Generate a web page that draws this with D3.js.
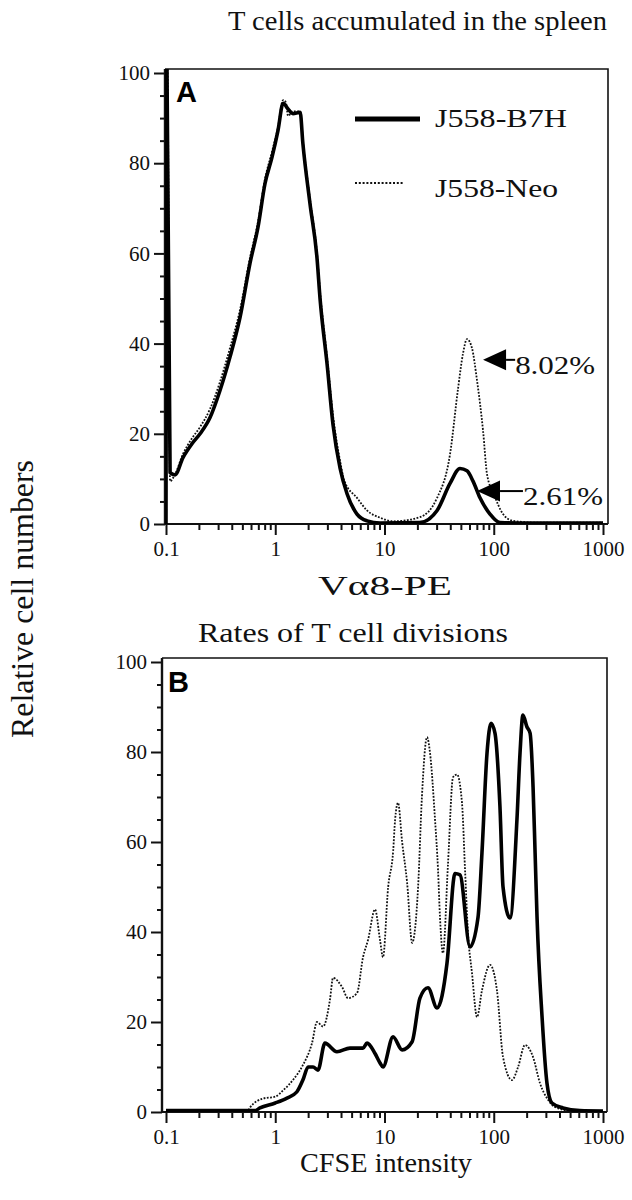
<!DOCTYPE html>
<html><head><meta charset="utf-8">
<script src="https://cdn.jsdelivr.net/npm/d3@7"></script>
<style>
html,body{margin:0;padding:0;background:#fff;}
svg{display:block;}
</style></head>
<body>
<svg id="chart" width="632" height="1200"></svg>
<script>
// ---------- DATA ----------
const xTickValues = [0.1, 1, 10, 100, 1000];
const xTickLabels = ["0.1", "1", "10", "100", "1000"];
const yTickValues = [0, 20, 40, 60, 80, 100];
const yTickLabels = ["0", "20", "40", "60", "80", "100"];
const seriesNames = ["J558-B7H", "J558-Neo"];

// Panel A : Va8-PE histograms  [value, relative cell number]
const topB7H = [[0.1,0],[0.102,102],[0.109,11.4],[0.121,10.9],[0.143,14.7],[0.173,17.8],[0.205,20],[0.253,23.6],[0.312,29.6],[0.385,37],[0.476,45.8],[0.587,57.8],[0.695,65.8],[0.806,75.5],[0.933,81.3],[1.06,87.3],[1.18,93.3],[1.31,92],[1.45,91],[1.69,91.3],[1.79,84.4],[2.08,71],[2.41,59],[2.57,50],[2.98,35.5],[3.38,22],[3.92,12.4],[4.54,6.7],[5.6,2.2],[6.92,0.7],[9.1,0.2],[21,0.3],[30.3,3],[39.8,9],[49.1,12.3],[56.9,11.8],[64.6,9.5],[74.8,5.8],[92.4,2.2],[114,0.3],[200,0.2],[1000,0.2]];
const topNeo = [[0.1,0],[0.103,102],[0.109,9.5],[0.121,11],[0.143,15.5],[0.173,19],[0.205,21.5],[0.253,25.5],[0.312,31.5],[0.385,39],[0.476,47.5],[0.587,59],[0.695,67],[0.806,76.5],[0.933,82.5],[1.06,88],[1.18,94],[1.25,93.5],[1.31,90.5],[1.45,91.5],[1.69,91.5],[1.79,85],[2.08,72],[2.41,60],[2.57,51.5],[2.98,37],[3.38,24],[3.92,14],[4.3,9.5],[5.6,5.8],[6.92,3],[9.1,1.4],[12,0.6],[21,1.5],[30.3,5.8],[39.8,15.5],[47.1,30],[52.3,37.8],[56.9,41],[63.2,39],[70.3,31.8],[79.8,20.7],[86.8,11],[100,6.7],[121.6,2.2],[150,0.7],[250,0.3],[1000,0.3]];

// Panel B : CFSE intensity histograms
const botB7H = [[0.1,0.3],[0.65,0.3],[0.725,0.9],[1,2],[1.28,3.1],[1.58,4.5],[1.79,7.1],[2.0,10],[2.22,10],[2.46,9.3],[2.85,15.3],[3.67,13.4],[4.83,14.2],[6.36,14.2],[6.92,15.3],[8.19,13],[9.1,10.9],[9.69,10],[11.97,16.7],[14.5,13.8],[17.9,15.6],[21.1,25.3],[25,27.6],[30.3,23.1],[37.3,33],[44.2,53],[49.1,52.7],[60.6,36.7],[71.8,43.3],[78,57.6],[86.8,79.8],[94.4,86.4],[102.6,84.2],[114,67.8],[121.6,50],[141,43.1],[163,64.9],[174,79.8],[185,88.2],[201,85.6],[215,84.2],[229,72.2],[239,57.6],[249,43.3],[277,21],[307,6.4],[341,2],[430,0.9],[615,0.3],[1000,0.2]];
const botNeo = [[0.1,0.3],[0.56,0.3],[0.587,1],[0.773,3],[1,3.4],[1.18,4.8],[1.45,7.1],[1.79,10.4],[2.17,15.3],[2.41,20],[2.74,19],[3.17,25],[3.38,29.8],[4.08,27.8],[4.64,25.3],[5.6,26.4],[6.36,34.4],[7.06,38.2],[8.19,45],[9.1,38.2],[9.69,34.4],[10.8,50],[12,58],[12.5,64.9],[13.3,68.7],[14.5,60],[16.1,51],[17.9,37.6],[20.3,50],[22,70],[24.5,83.3],[26.1,79.8],[29,65],[30.9,53.8],[32.2,43.3],[34.3,35.3],[38.1,55],[42.4,74.4],[46.1,75],[51.2,68.7],[54.6,53.8],[58.1,39.8],[63.2,30.9],[70.3,21.1],[78,27],[92.4,32.7],[107,27],[121.6,12.2],[147,7.1],[167,10],[193,14.9],[229,12.2],[265,6.4],[314,2.7],[364,1.1],[499,0.3],[1000,0.2]];

// Annotations on panel A: [arrow tip x, tip y, line end x, label]
const annotValues = [[79.8, 36.4, 157, "8.02%"], [70.3, 7.3, 185, "2.61%"]];

// ---------- DRAW ----------
const svg = d3.select("#chart");
const serif = "'Liberation Serif','Times New Roman',Times,serif";
const sans = "'Liberation Sans',Arial,sans-serif";

const x = d3.scaleLog().domain([0.1, 1000]).range([166, 603]);
const minorX = [];
[0.1, 1, 10, 100].forEach(d => { for (let k = 2; k <= 9; k++) minorX.push(d * k); });
const minorY = d3.range(0, 101, 5).filter(v => v % 20 !== 0);

function panel(cfg) {
  const y = d3.scaleLinear().domain([0, 100]).range([cfg.bottom, cfg.top + 4]);
  const g = svg.append("g");
  const clipId = "clip" + cfg.id;
  svg.append("clipPath").attr("id", clipId).append("rect")
    .attr("x", cfg.left).attr("y", cfg.top).attr("width", cfg.right - cfg.left).attr("height", cfg.bottom - cfg.top);

  // frame top/right
  g.append("path").attr("d", `M${cfg.left},${cfg.top}H${cfg.right}V${cfg.bottom}`)
    .attr("fill", "none").attr("stroke", "#111").attr("stroke-width", 1.6);

  // x axis
  const xa = g.append("g").attr("transform", `translate(0,${cfg.bottom})`);
  xa.append("g").call(d3.axisBottom(x).tickValues(minorX).tickSize(6).tickFormat(""))
    .call(s => s.select(".domain").remove());
  xa.append("g").call(d3.axisBottom(x).tickValues(xTickValues).tickSize(11).tickFormat((d, i) => xTickLabels[i]).tickPadding(6))
    .call(s => s.select(".domain").remove());
  xa.append("line").attr("x1", cfg.left).attr("x2", cfg.right).attr("stroke", "#111").attr("stroke-width", 2.2);
  xa.selectAll(".tick line").attr("stroke", "#111").attr("stroke-width", 2);
  xa.selectAll(".tick text").attr("font-family", serif).attr("font-size", 21).attr("fill", "#111");

  // y axis
  const ya = g.append("g").attr("transform", `translate(${cfg.left},0)`);
  ya.append("g").call(d3.axisLeft(y).tickValues(minorY).tickSize(5).tickFormat(""))
    .call(s => s.select(".domain").remove());
  ya.append("g").call(d3.axisLeft(y).tickValues(yTickValues).tickSize(11).tickFormat((d, i) => yTickLabels[i]).tickPadding(4))
    .call(s => s.select(".domain").remove());
  ya.append("line").attr("y1", cfg.top).attr("y2", cfg.bottom).attr("stroke", "#111").attr("stroke-width", 2.4);
  ya.selectAll(".tick line").attr("stroke", "#111").attr("stroke-width", 2);
  ya.selectAll(".tick text").attr("font-family", serif).attr("font-size", 21).attr("fill", "#111");

  const line = d3.line().x(d => x(d[0])).y(d => y(d[1])).curve(d3.curveMonotoneX);
  const plot = g.append("g").attr("clip-path", `url(#${clipId})`);
  plot.append("path").datum(cfg.neo).attr("d", line).attr("fill", "none")
    .attr("stroke", "#111").attr("stroke-width", 1.8).attr("stroke-dasharray", "1.8,1.5");
  plot.append("path").datum(cfg.b7h).attr("d", line).attr("fill", "none")
    .attr("stroke", "#000").attr("stroke-width", 3.6).attr("stroke-linejoin", "round");

  // panel letter
  g.append("text").attr("x", cfg.letterX).attr("y", cfg.letterY).text(cfg.letter)
    .attr("font-family", sans).attr("font-weight", "bold").attr("font-size", 29).attr("fill", "#000");
  return { g, y };
}

const A = panel({ id: "A", left: 165, right: 608, top: 69, bottom: 524, b7h: topB7H, neo: topNeo, letter: "A", letterX: 176, letterY: 102 });
const B = panel({ id: "B", left: 162, right: 607, top: 658, bottom: 1112, b7h: botB7H, neo: botNeo, letter: "B", letterX: 168, letterY: 692 });

function txt(str, xp, yp, size, len, anchor) {
  const t = svg.append("text").attr("x", xp).attr("y", yp).text(str)
    .attr("font-family", serif).attr("font-size", size).attr("fill", "#111")
    .attr("text-anchor", anchor || "start");
  if (len) t.attr("textLength", len).attr("lengthAdjust", "spacingAndGlyphs");
  return t;
}

// titles and axis labels
txt("T cells accumulated in the spleen", 228, 30, 28, 379);
txt("Rates of T cell divisions", 198, 642, 28, 310);
txt("V\u03b18-PE", 318, 595, 28, 134);
txt("CFSE intensity", 300, 1172, 28, 172);
svg.append("text").attr("transform", "translate(33,738) rotate(-90)").text("Relative cell numbers")
  .attr("font-family", serif).attr("font-size", 31).attr("fill", "#111")
  .attr("textLength", 278).attr("lengthAdjust", "spacingAndGlyphs");

// legend
svg.append("line").attr("x1", 355).attr("x2", 420).attr("y1", 119).attr("y2", 119)
  .attr("stroke", "#000").attr("stroke-width", 5);
svg.append("line").attr("x1", 355).attr("x2", 404).attr("y1", 183).attr("y2", 183)
  .attr("stroke", "#111").attr("stroke-width", 2).attr("stroke-dasharray", "2,1.8");
txt(seriesNames[0], 435, 127, 26, 132);
txt(seriesNames[1], 435, 197, 26, 123);

// annotations
annotValues.forEach(a => {
  const tx = x(a[0]), ty = A.y(a[1]);
  const back = tx + 23;
  svg.append("path").attr("d", `M${tx},${ty}L${back},${ty - 10.5}L${back},${ty + 10.5}Z`).attr("fill", "#000");
  svg.append("line").attr("x1", back).attr("x2", x(a[2])).attr("y1", ty).attr("y2", ty)
    .attr("stroke", "#000").attr("stroke-width", 2);
  txt(a[3], x(a[2]), ty + 14, 25, 80);
});
</script>
</body></html>
